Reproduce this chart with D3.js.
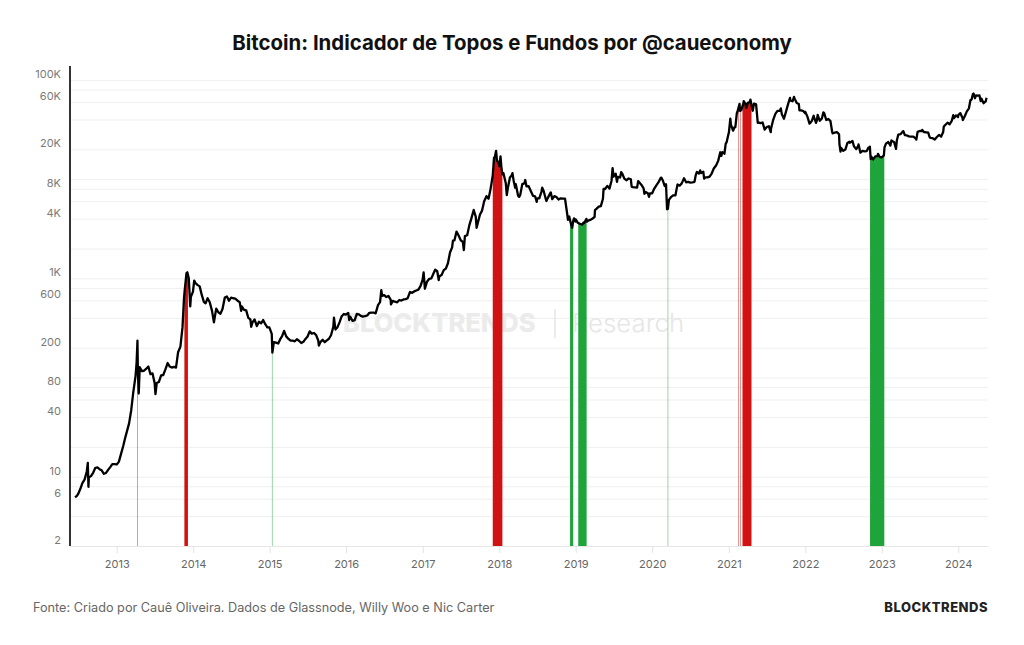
<!DOCTYPE html>
<html>
<head>
<meta charset="utf-8">
<script src="https://cdn.jsdelivr.net/npm/d3@7"></script>
<style>
  body { margin: 0; background: #fff; }
  svg { display: block; font-family: Inter, "Noto Sans", sans-serif; }
</style>
</head>
<body>
<div id="chart"></div>
<script>
// BTC price (USD), approx. closes, [MM-DD, price]
const btc2012 = [["06-16",6.2],["06-25",6.4],["07-01",6.7],["07-11",7.5],["07-21",8.6],["08-01",9.4],["08-11",11.3],["08-16",13.8],["08-19",7.9],["08-21",9.8],["09-01",10.2],["09-11",11.0],["09-21",12.3],["10-01",12.4],["10-11",11.9],["10-21",11.6],["11-01",10.7],["11-11",10.9],["11-21",11.7],["12-01",12.5],["12-11",13.4],["12-21",13.4]];
const btc2013 = [["01-01",13.3],["01-11",14.1],["01-21",16.8],["02-01",20.4],["02-11",24.9],["02-21",29.8],["03-01",34.5],["03-11",46.5],["03-21",70.9],["04-01",104],["04-06",142],["04-10",235],["04-12",117],["04-16",69],["04-21",127],["05-01",116],["05-11",117],["05-21",122],["06-01",129],["06-11",108],["06-21",110],["07-01",88],["07-05",68],["07-11",88],["07-21",90],["08-01",105],["08-11",106],["08-21",120],["09-01",140],["09-11",129],["09-21",126],["10-01",128],["10-11",126],["10-21",180],["11-01",205],["11-11",320],["11-18",620],["11-21",740],["11-30",1130],["12-04",1150],["12-11",1000],["12-18",522],["12-21",650],["12-31",735]];
const btc2014 = [["01-01",770],["01-06",950],["01-11",900],["01-21",860],["02-01",830],["02-11",680],["02-21",580],["03-01",560],["03-11",630],["03-21",575],["04-01",470],["04-10",360],["04-21",495],["05-01",455],["05-11",440],["05-21",490],["06-01",640],["06-11",655],["06-21",595],["07-01",640],["07-11",630],["07-21",625],["08-01",595],["08-11",575],["08-18",470],["08-21",520],["09-01",480],["09-11",475],["09-21",400],["10-01",385],["10-05",325],["10-11",360],["10-21",385],["11-01",330],["11-11",365],["11-21",352],["12-01",380],["12-11",345],["12-21",320],["12-31",320]];
const btc2015 = [["01-01",315],["01-11",275],["01-14",178],["01-21",227],["02-01",225],["02-11",220],["02-21",245],["03-01",260],["03-11",295],["03-21",260],["04-01",245],["04-11",235],["04-21",235],["05-01",232],["05-11",243],["05-21",235],["06-01",223],["06-11",229],["06-21",245],["07-01",259],["07-11",292],["07-21",277],["08-01",281],["08-11",268],["08-21",236],["08-24",210],["09-01",229],["09-11",240],["09-21",227],["10-01",237],["10-11",246],["10-21",267],["11-01",325],["11-04",402],["11-11",305],["11-21",322],["12-01",362],["12-11",415],["12-21",437],["12-31",430]];
const btc2016 = [["01-01",433],["01-11",448],["01-16",380],["01-21",410],["02-01",372],["02-11",379],["02-21",438],["03-01",434],["03-11",419],["03-21",411],["04-01",417],["04-11",422],["04-21",449],["05-01",452],["05-11",452],["05-21",443],["06-01",536],["06-11",577],["06-17",760],["06-21",665],["07-01",676],["07-11",648],["07-21",665],["08-01",607],["08-02",547],["08-11",592],["08-21",581],["09-01",573],["09-11",605],["09-21",597],["10-01",613],["10-11",617],["10-21",631],["11-01",729],["11-11",715],["11-21",738],["12-01",754],["12-11",769],["12-21",834],["12-31",964]];
const btc2017 = [["01-01",998],["01-05",1150],["01-11",785],["01-21",925],["02-01",990],["02-11",1000],["02-21",1120],["03-01",1223],["03-11",1180],["03-18",960],["03-21",1047],["04-01",1080],["04-11",1210],["04-21",1255],["05-01",1420],["05-11",1820],["05-21",2050],["05-25",2400],["06-01",2410],["06-11",2960],["06-21",2700],["07-01",2420],["07-11",2330],["07-16",1930],["07-21",2670],["08-01",2720],["08-11",3420],["08-21",4020],["09-01",4890],["09-11",4160],["09-15",3230],["09-21",3630],["10-01",4400],["10-11",4820],["10-21",5990],["11-01",6740],["11-11",6350],["11-21",8080],["12-01",10900],["12-07",16500],["12-11",16700],["12-17",19300],["12-21",15500],["12-31",14150]];
const btc2018 = [["01-01",13500],["01-07",17000],["01-11",13400],["01-16",11200],["01-21",11500],["02-01",9170],["02-06",6900],["02-11",8130],["02-21",10400],["03-01",10900],["03-05",11500],["03-11",9580],["03-18",8200],["03-21",8900],["04-01",6810],["04-06",6630],["04-11",6930],["04-21",8920],["05-01",9080],["05-05",9800],["05-11",8480],["05-21",8520],["06-01",7540],["06-11",6790],["06-21",6720],["06-29",5900],["07-01",6390],["07-11",6390],["07-21",7410],["07-25",8200],["08-01",7600],["08-11",6310],["08-14",6030],["08-21",6480],["09-01",7190],["09-04",7360],["09-11",6280],["09-21",6740],["10-01",6600],["10-11",6240],["10-21",6410],["11-01",6370],["11-11",6350],["11-21",4510],["11-25",3880],["12-01",4200],["12-11",3420],["12-15",3230],["12-21",3870],["12-24",4020],["12-31",3740]];
const btc2019 = [["01-01",3940],["01-11",3630],["01-21",3540],["02-01",3490],["02-08",3670],["02-11",3620],["02-21",3980],["02-24",3730],["03-01",3820],["03-11",3880],["03-21",3990],["04-01",4150],["04-03",4880],["04-11",5040],["04-21",5290],["05-01",5350],["05-11",6350],["05-14",7990],["05-21",7950],["06-01",8550],["06-11",8030],["06-21",9650],["06-26",12900],["07-01",10600],["07-11",11350],["07-17",9400],["07-21",10530],["08-01",10400],["08-06",11800],["08-11",11390],["08-21",10140],["09-01",9760],["09-11",10160],["09-21",9990],["09-25",8420],["10-01",8320],["10-11",8270],["10-21",8220],["10-26",9550],["11-01",9260],["11-11",8750],["11-21",8080],["11-25",7130],["12-01",7420],["12-11",7220],["12-17",6640],["12-21",7180],["12-31",7200]];
const btc2020 = [["01-01",7200],["01-11",8040],["01-21",8660],["02-01",9390],["02-11",10300],["02-14",10360],["02-21",9690],["03-01",8530],["03-07",8900],["03-12",4970],["03-16",5010],["03-21",6190],["04-01",6640],["04-11",6880],["04-21",6880],["04-30",8660],["05-01",8830],["05-11",8600],["05-21",9070],["06-01",10200],["06-11",9300],["06-21",9370],["07-01",9230],["07-11",9280],["07-21",9390],["07-27",11000],["08-01",11800],["08-11",11400],["08-17",12250],["08-21",11530],["09-01",11920],["09-05",10130],["09-11",10440],["09-21",10420],["10-01",10620],["10-11",11400],["10-21",12820],["11-01",13740],["11-11",15290],["11-21",18680],["11-26",17150],["12-01",18760],["12-11",18060],["12-17",22800],["12-21",23480],["12-31",28990]];
const btc2021 = [["01-01",29370],["01-08",40800],["01-11",35570],["01-21",30830],["01-28",33400],["02-01",33510],["02-08",46200],["02-11",47900],["02-21",57500],["02-23",48800],["03-01",49600],["03-11",57800],["03-13",61200],["03-21",57400],["03-25",52300],["04-01",58700],["04-11",59800],["04-14",63500],["04-21",53800],["04-25",49000],["05-01",57800],["05-11",56700],["05-19",37000],["05-21",37300],["06-01",36700],["06-11",37300],["06-21",31600],["07-01",33600],["07-11",34200],["07-20",29800],["07-21",32100],["08-01",39900],["08-11",45600],["08-21",48900],["09-01",48800],["09-06",51800],["09-11",45100],["09-21",40700],["10-01",48200],["10-11",57500],["10-20",65900],["10-21",62200],["11-01",61000],["11-08",67550],["11-11",64900],["11-21",58600],["12-01",57200],["12-04",49400],["12-11",49400],["12-21",48900],["12-31",46300]];
const btc2022 = [["01-01",47700],["01-11",42700],["01-21",36300],["01-24",36700],["02-01",38700],["02-10",43600],["02-11",42400],["02-21",37000],["02-24",38300],["03-01",44400],["03-11",38800],["03-21",41000],["03-28",47100],["04-01",46300],["04-11",39500],["04-21",40500],["05-01",38500],["05-09",30100],["05-11",29000],["05-21",29400],["06-01",29800],["06-11",28400],["06-13",22500],["06-18",19000],["06-21",20700],["07-01",19300],["07-11",19900],["07-21",23200],["07-30",23800],["08-01",23300],["08-11",24000],["08-14",24300],["08-21",21500],["09-01",20100],["09-11",21800],["09-12",22400],["09-21",18500],["10-01",19300],["10-11",19100],["10-21",19200],["10-29",20800],["11-01",20500],["11-05",21300],["11-09",15900],["11-11",17000],["11-21",15800],["12-01",17000],["12-11",17100],["12-14",18000],["12-21",16800],["12-31",16550]];
const btc2023 = [["01-01",16600],["01-11",17400],["01-14",20900],["01-21",22800],["02-01",23700],["02-11",21800],["02-16",24600],["02-21",24200],["03-01",23600],["03-10",20200],["03-14",24700],["03-21",28200],["04-01",28450],["04-11",30300],["04-14",30500],["04-21",27800],["05-01",27600],["05-11",27000],["05-21",26800],["06-01",26800],["06-11",25800],["06-15",25100],["06-21",30000],["07-01",30600],["07-11",30600],["07-13",31400],["07-21",29900],["08-01",29700],["08-11",29400],["08-17",26600],["08-21",26100],["09-01",25900],["09-11",25100],["09-21",26600],["10-01",27900],["10-11",26800],["10-21",29900],["10-24",33900],["11-01",35400],["11-11",37100],["11-21",35800],["12-01",38700],["12-08",44200],["12-11",41200],["12-21",43900],["12-31",42300]];
const btc2024 = [["01-01",44200],["01-11",46300],["01-21",41600],["01-23",39500],["02-01",43100],["02-11",48300],["02-21",51800],["02-28",62500],["03-01",62400],["03-05",63800],["03-11",72100],["03-14",73100],["03-21",65500],["03-26",70000],["04-01",69700],["04-11",70000],["04-17",61300],["04-21",64900],["05-01",58300],["05-11",60800],["05-15",66200]];

const priceYears = [
  [2012, btc2012], [2013, btc2013], [2014, btc2014], [2015, btc2015],
  [2016, btc2016], [2017, btc2017], [2018, btc2018], [2019, btc2019],
  [2020, btc2020], [2021, btc2021], [2022, btc2022], [2023, btc2023],
  [2024, btc2024]
];

// signal windows [start, end]
const topSignals = [
  ["2013-04-10", "2013-04-11"],
  ["2013-11-20", "2013-12-07"],
  ["2017-12-01", "2018-01-16"],
  ["2021-02-16", "2021-02-17"],
  ["2021-02-25", "2021-02-26"],
  ["2021-03-07", "2021-04-19"]
];
const bottomSignals = [
  ["2015-01-14", "2015-01-15"],
  ["2018-12-05", "2018-12-20"],
  ["2019-01-13", "2019-02-22"],
  ["2020-03-16", "2020-03-17"],
  ["2022-11-06", "2023-01-13"]
];

const gridValues = [2, 4, 6, 8, 10, 20, 40, 60, 80, 100, 200, 400, 600, 800,
  1000, 2000, 4000, 6000, 8000, 10000, 20000, 40000, 60000, 80000, 100000];
const labelValues = [2, 6, 10, 40, 80, 200, 600, 1000, 4000, 8000, 20000, 60000, 100000];

const parseDate = d3.timeParse("%Y-%m-%d");
const prices = priceYears.flatMap(([yr, rows]) =>
  rows.map(([md, v]) => ({ date: parseDate(`${yr}-${md}`), value: v })));

const width = 1024;
const height = 645;
const plot = { left: 70, right: 988, top: 66, bottom: 546 };

const svg = d3.select("#chart")
  .append("svg")
  .attr("width", width)
  .attr("height", height);

svg.append("rect").attr("width", width).attr("height", height).attr("fill", "#fff");

const x = d3.scaleTime()
  .domain([parseDate("2012-05-23"), parseDate("2024-05-22")])
  .range([plot.left, plot.right]);

const y = d3.scaleLog()
  .domain([2, 100000])
  .range([plot.bottom, 80]);

// title
svg.append("text")
  .attr("x", width / 2)
  .attr("y", 50)
  .attr("text-anchor", "middle")
  .style("font-size", "20.4px")
  .style("font-weight", 700)
  .style("fill", "#111")
  .text("Bitcoin: Indicador de Topos e Fundos por @caueconomy");

// y grid + labels
const yAxis = d3.axisLeft(y)
  .tickValues(gridValues)
  .tickSize(-(plot.right - plot.left))
  .tickFormat(v => labelValues.includes(v) ? (v >= 1000 ? v / 1000 + "K" : v) : "");

const gy = svg.append("g")
  .attr("transform", `translate(${plot.left},0)`)
  .call(yAxis);
gy.select(".domain").remove();
gy.selectAll(".tick line").attr("stroke", "#efefef").attr("stroke-width", 1);
gy.selectAll(".tick text")
  .attr("x", -9)
  .attr("dy", -2.5)
  .style("font-family", "Inter, sans-serif")
  .style("font-size", "11px")
  .style("fill", "#7a7a7a");

// watermark
const wm = svg.append("g").style("pointer-events", "none");
wm.append("text")
  .attr("x", 343).attr("y", 332)
  .style("font-size", "25.5px").style("font-weight", 800)
  .style("fill", "#ebebeb")
  .text("BLOCKTRENDS");
wm.append("line")
  .attr("x1", 555).attr("x2", 555).attr("y1", 309).attr("y2", 338)
  .attr("stroke", "#e6e6e6").attr("stroke-width", 1.5);
wm.append("text")
  .attr("x", 572).attr("y", 332)
  .style("font-size", "25.8px").style("font-weight", 300)
  .style("fill", "#e6e6e6")
  .text("Research");

// x axis
const xAxis = d3.axisBottom(x)
  .ticks(d3.timeYear.every(1))
  .tickFormat(d3.timeFormat("%Y"))
  .tickSize(7)
  .tickSizeOuter(0);

const gx = svg.append("g")
  .attr("transform", `translate(0,${plot.bottom})`)
  .call(xAxis);
gx.select(".domain").attr("stroke", "#e6e6e6");
gx.selectAll(".tick line").attr("stroke", "#e3e3e3");
gx.selectAll(".tick text")
  .attr("y", 14)
  .style("font-family", "Inter, sans-serif")
  .style("font-size", "11px")
  .style("fill", "#666");

// signal areas under price, clipped to each window
const area = d3.area()
  .x(d => x(d.date))
  .y0(plot.bottom)
  .y1(d => y(d.value));

const drawSignals = (signals, color, name) => {
  signals.forEach(([s, e], i) => {
    const x0 = x(parseDate(s));
    const w = x(parseDate(e)) - x0;
    const id = `clip-${name}-${i}`;
    svg.append("clipPath").attr("id", id)
      .append("rect")
      .attr("x", w < 1 ? x0 - 0.5 : x0)
      .attr("y", 0)
      .attr("width", Math.max(w, 1))
      .attr("height", height);
    svg.append("path")
      .datum(prices)
      .attr("clip-path", `url(#${id})`)
      .attr("fill", color)
      .attr("opacity", w < 1 ? 0.45 : 1)
      .attr("d", area);
  });
};
drawSignals(topSignals, "#d01212", "top");
drawSignals(bottomSignals, "#1fa33b", "bottom");

// price line
const line = d3.line()
  .x(d => x(d.date))
  .y(d => y(d.value));

svg.append("path")
  .datum(prices)
  .attr("fill", "none")
  .attr("stroke", "#000")
  .attr("stroke-width", 2.3)
  .attr("stroke-linejoin", "round")
  .attr("d", line);

// left axis bar
svg.append("line")
  .attr("x1", plot.left).attr("x2", plot.left)
  .attr("y1", plot.top).attr("y2", plot.bottom)
  .attr("stroke", "#333")
  .attr("stroke-width", 2);

// footer
svg.append("text")
  .attr("x", 33).attr("y", 612)
  .style("font-size", "12.7px")
  .style("fill", "#666")
  .text("Fonte: Criado por Cauê Oliveira. Dados de Glassnode, Willy Woo e Nic Carter");

svg.append("text")
  .attr("x", 988).attr("y", 612)
  .attr("text-anchor", "end")
  .style("font-size", "13px")
  .style("font-weight", 800)
  .style("letter-spacing", "0.5px")
  .style("fill", "#222")
  .text("BLOCKTRENDS");
</script>
</body>
</html>
